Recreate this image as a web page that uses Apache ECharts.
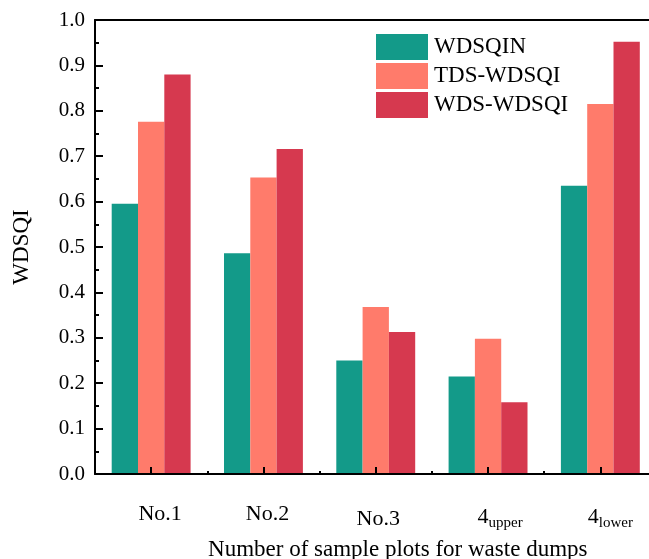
<!DOCTYPE html>
<html>
<head>
<meta charset="utf-8">
<script src="https://cdn.jsdelivr.net/npm/echarts@6/dist/echarts.min.js"></script>
<style>
  html, body { margin: 0; padding: 0; background: #fff; }
  #chart { width: 649px; height: 559px; }
</style>
</head>
<body>
<div id="chart"></div>
<script>
const FONT = '"Liberation Serif", "Times New Roman", serif'

// data
const categories = ['No.1', 'No.2', 'No.3', '4_upper', '4_lower']
const seriesNames = ['WDSQIN', 'TDS-WDSQI', 'WDS-WDSQI']
const wdsqin = [0.595, 0.486, 0.250, 0.215, 0.635]
const tdsWdsqi = [0.776, 0.653, 0.368, 0.298, 0.815]
const wdsWdsqi = [0.880, 0.716, 0.313, 0.158, 0.952]
const yTicks = { min: 0, max: 1, interval: 0.1 }

const colors = ['#139a89', '#ff7b6b', '#d6394f']

// small per-label nudges, the original labels are not quite centred
const labelShift = [[0, 18], [0, 8], [5, 5], [3, 24], [3, 20]]

const chart = echarts.init(document.getElementById('chart'))

const catData = categories.map((c, i) => ({
  value: c,
  textStyle: { padding: [labelShift[i][0], 0, 0, labelShift[i][1]] },
}))

const tickStyle = { color: '#000', width: 2 }

const option = {
  animation: false,
  grid: {
    left: 95, top: 20, bottom: 85, right: -7.5,
    containLabel: false,
    outerBoundsMode: 'none',
  },
  legend: {
    left: 376, top: 34,
    padding: 0,
    orient: 'vertical',
    icon: 'rect',
    itemWidth: 52, itemHeight: 26, itemGap: 3,
    textStyle: { fontFamily: FONT, fontSize: 23, color: '#000', padding: [0, 0, 0, 1] },
    data: seriesNames,
  },
  xAxis: [
    {
      type: 'category',
      data: catData,
      position: 'bottom',
      z: 5,
      name: 'Number of sample plots for waste dumps',
      nameLocation: 'middle',
      nameGap: 64,
      nameTextStyle: { fontFamily: FONT, fontSize: 23, color: '#000', padding: [0, 0, 0, 44] },
      axisLine: { show: true, lineStyle: { color: '#000', width: 2 } },
      axisTick: { show: true, inside: true, alignWithLabel: true, interval: 0, length: 7, lineStyle: tickStyle },
      axisLabel: {
        show: true,
        interval: 0,
        hideOverlap: false,
        margin: 28,
        fontFamily: FONT, fontSize: 22, color: '#000',
        formatter: (v) => {
          const p = v.split('_')
          return p.length > 1 ? '{b|' + p[0] + '}{sub|' + p[1] + '}' : '{b|' + v + '}'
        },
        rich: {
          b: { fontFamily: FONT, fontSize: 22, color: '#000', lineHeight: 24 },
          sub: { fontFamily: FONT, fontSize: 15, color: '#000', lineHeight: 24, padding: [12, 0, 0, 0] },
        },
      },
      splitLine: { show: false },
    },
    {
      // boundary ticks between the groups
      type: 'category',
      data: categories,
      position: 'bottom',
      z: 5,
      axisLine: { show: false },
      axisTick: { show: true, inside: true, interval: 0, length: 3, lineStyle: tickStyle },
      axisLabel: { show: false },
      splitLine: { show: false },
    },
    {
      // top frame line
      type: 'category',
      data: categories,
      position: 'top',
      axisLine: { show: true, lineStyle: { color: '#000', width: 2 } },
      axisTick: { show: false },
      axisLabel: { show: false },
      splitLine: { show: false },
    },
  ],
  yAxis: {
    type: 'value',
    min: yTicks.min, max: yTicks.max, interval: yTicks.interval,
    z: 5,
    name: 'WDSQI',
    nameLocation: 'middle',
    nameGap: 62,
    nameTextStyle: { fontFamily: FONT, fontSize: 23, color: '#000' },
    axisLine: { show: true, lineStyle: { color: '#000', width: 2 } },
    axisTick: { show: true, inside: true, length: 8, lineStyle: tickStyle },
    minorTick: { show: true, splitNumber: 2, length: 4, lineStyle: tickStyle },
    axisLabel: {
      margin: 10,
      fontFamily: FONT, fontSize: 21, color: '#000',
      formatter: (v) => v.toFixed(1),
    },
    splitLine: { show: false },
  },
  series: [
    { name: seriesNames[0], type: 'bar', data: wdsqin, barWidth: 26.3, barGap: '0%', itemStyle: { color: colors[0] } },
    { name: seriesNames[1], type: 'bar', data: tdsWdsqi, barWidth: 26.3, barGap: '0%', itemStyle: { color: colors[1] } },
    { name: seriesNames[2], type: 'bar', data: wdsWdsqi, barWidth: 26.3, barGap: '0%', itemStyle: { color: colors[2] } },
  ],
}

chart.setOption(option)
</script>
</body>
</html>
